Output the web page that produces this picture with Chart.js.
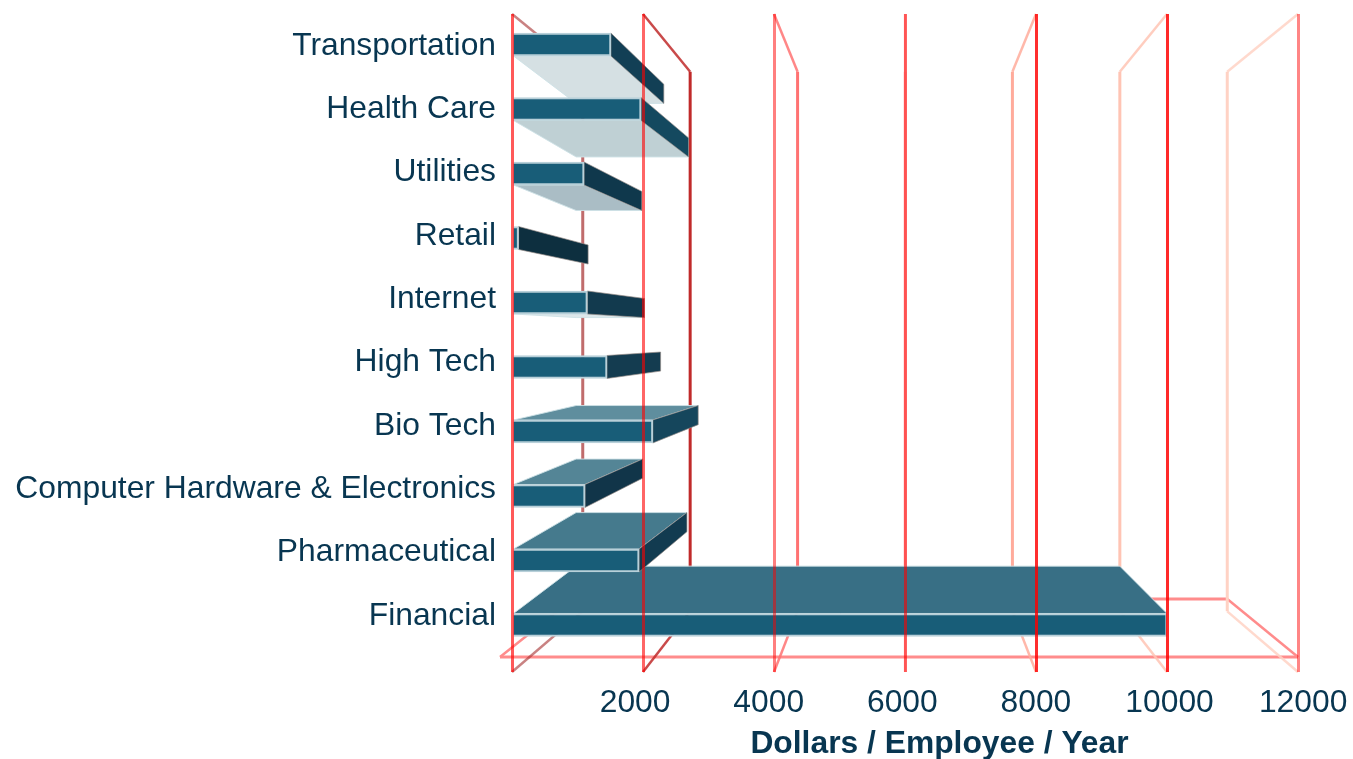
<!DOCTYPE html>
<html>
<head>
<meta charset="utf-8">
<title>Dollars per employee per year by industry</title>
<script src="https://cdn.jsdelivr.net/npm/chart.js@4"></script>
<style>
  html, body { margin: 0; padding: 0; background: #fff; }
  canvas { display: block; }
</style>
</head>
<body>
<canvas id="chart" width="1353" height="759"></canvas>
<script>
// Industries, top to bottom, and spend in dollars per employee per year
const categories = ['Transportation', 'Health Care', 'Utilities', 'Retail', 'Internet',
  'High Tech', 'Bio Tech', 'Computer Hardware & Electronics', 'Pharmaceutical', 'Financial'];
const dollars = [1510, 1970, 1100, 100, 1150, 1450, 2150, 1115, 1940, 10000];
const xTickLabels = [2000, 4000, 6000, 8000, 10000, 12000];
const axisTitle = 'Dollars / Employee / Year';

// Shading of each bar's visible horizontal face (underside above the eye, top below it)
const faceShades = ['#d5e0e3', '#bfd0d4', '#aabdc5', null, '#dde7ea',
  null, '#5f8e9e', '#548596', '#457a8d', '#386f85'];
const sideShades = ['#123f55', '#14495f', '#0f384c', '#0d2f3f', '#123a4e',
  '#143c50', '#15465c', '#113549', '#123b50', '#123b50'];

// Wall lines at 0, 2000 ... 12000: front plane, then receding plane
const frontGridColors = ['rgba(255,0,0,.65)', 'rgba(255,0,0,.6)', 'rgba(255,0,0,.5)',
  'rgba(255,0,0,.6)', 'rgba(255,0,0,.82)', 'rgba(255,0,0,.84)', 'rgba(255,0,0,.48)'];
const backGridColors = ['rgba(165,45,45,.7)', '#c02a2a', '#ff7272', 'rgba(255,0,0,.2)',
  '#ffab9b', '#ffc4b4', '#ffd2c4'];

const INK = '#083651';
const FONT = '"Liberation Sans", Arial, sans-serif';
const FONT_SIZE = 31.8;

// Perspective shared by the walls and the bars
const eye = { x: 905, y: 335 };
const wallDepth = 0.82;
const barDepthY = 0.83;
const barDepthRight = 0.82;
const barDepthLeft = 0.84;
const project = (x, y, kx, ky = kx) => [eye.x + (x - eye.x) * kx, eye.y + (y - eye.y) * ky];

function polygon(ctx, pts, fill, stroke) {
  ctx.beginPath();
  pts.forEach((p, i) => i ? ctx.lineTo(p[0], p[1]) : ctx.moveTo(p[0], p[1]));
  ctx.closePath();
  if (fill) { ctx.fillStyle = fill; ctx.fill(); }
  if (stroke) { ctx.strokeStyle = stroke; ctx.lineWidth = 1; ctx.stroke(); }
}

function segment(ctx, a, b, color, width) {
  ctx.beginPath();
  ctx.moveTo(a[0], a[1]);
  ctx.lineTo(b[0], b[1]);
  ctx.strokeStyle = color;
  ctx.lineWidth = width;
  ctx.stroke();
}

// Axis boxes keep a fixed size and do not reserve room for overhanging labels
function fixAxisBox(scale, size) {
  if (scale.isHorizontal()) scale.height = size; else scale.width = size;
  scale.paddingLeft = scale.paddingRight = scale.paddingTop = scale.paddingBottom = 0;
}

// Receding walls, floor frame and bar depth, all placed from the chart's scales
const perspectivePlugin = {
  id: 'perspective',
  beforeDatasetsDraw(chart) {
    const { ctx, chartArea: area, scales } = chart;
    const x = scales.x;
    ctx.save();

    // Floor frame behind the bars
    const floorY = area.bottom - 15;
    const floorLeft = area.left - 12;
    const floorColor = '#ff8c8c';
    segment(ctx, project(floorLeft, floorY, wallDepth), project(area.right, floorY, wallDepth), floorColor, 3);
    segment(ctx, [floorLeft, floorY], project(floorLeft, floorY, wallDepth), floorColor, 2.5);
    segment(ctx, [area.right, floorY], project(area.right, floorY, wallDepth), floorColor, 2.5);
    segment(ctx, [floorLeft, floorY], [area.right, floorY], floorColor, 3);

    // Back lines with their diagonals to the front plane
    [0].concat(xTickLabels).forEach((value, i) => {
      const px = x.getPixelForValue(value);
      const top = project(px, area.top, wallDepth);
      const bottom = project(px, area.bottom, wallDepth);
      const color = backGridColors[i];
      segment(ctx, top, bottom, color, 3);
      ctx.globalAlpha = 0.85;
      segment(ctx, [px, area.top], top, color, 2.5);
      segment(ctx, [px, area.bottom], bottom, color, 2.5);
      ctx.globalAlpha = 1;
    });

    // Bar depth, painted from the outermost bar inwards
    const bars = chart.getDatasetMeta(0).data.map((bar, i) => ({ bar, i }));
    bars.sort((a, b) => Math.abs(b.bar.y - eye.y) - Math.abs(a.bar.y - eye.y));
    bars.forEach(({ bar, i }) => {
      const { x: right, y, base: left, height } = bar.getProps(['x', 'y', 'base', 'height'], true);
      const top = y - height / 2;
      const bottom = y + height / 2;
      const faceY = bottom < eye.y ? bottom : top;
      if (faceShades[i]) {
        polygon(ctx, [[left, faceY], [right, faceY],
          project(right, faceY, barDepthRight, barDepthY), project(left, faceY, barDepthLeft, barDepthY)],
          faceShades[i], 'rgba(205,225,230,.9)');
      }
      if (right < eye.x) {
        polygon(ctx, [[right, top], project(right, top, barDepthRight, barDepthY),
          project(right, bottom, barDepthRight, barDepthY), [right, bottom]],
          sideShades[i], 'rgba(150,140,135,.65)');
      }
    });
    ctx.restore();
  },
  afterDraw(chart) {
    const { ctx } = chart;
    ctx.save();
    ctx.fillStyle = INK;
    ctx.font = 'bold ' + FONT_SIZE + 'px ' + FONT;
    ctx.textAlign = 'center';
    ctx.textBaseline = 'middle';
    ctx.fillText(axisTitle, 939.5, 744.5);
    ctx.restore();
  }
};

new Chart(document.getElementById('chart'), {
  type: 'bar',
  data: {
    datasets: [{
      data: dollars.map((v, i) => ({ x: v, y: i })),
      xAxisID: 'x',
      yAxisID: 'y',
      backgroundColor: '#185d78',
      borderColor: '#b8d0d9',
      borderWidth: 2,
      borderSkipped: 'start',
      barThickness: 23
    }]
  },
  options: {
    indexAxis: 'y',
    responsive: false,
    animation: false,
    layout: { padding: { top: 14, right: 55, left: 0, bottom: 0 } },
    plugins: { legend: { display: false }, tooltip: { enabled: false } },
    scales: {
      // Value axis of the bars; its grid is the front plane and lies over them
      x: {
        type: 'linear',
        position: 'bottom',
        min: 0,
        max: 12000,
        ticks: { display: false, stepSize: 2000 },
        border: { display: false },
        grid: {
          z: 1,
          drawTicks: false,
          color: ctx => frontGridColors[ctx.index],
          lineWidth: 3
        }
      },
      // Printed numbers sit on a slightly wider plane than the bars
      xLabels: {
        type: 'linear',
        position: 'bottom',
        min: 157,
        max: 11923,
        afterBuildTicks: s => { s.ticks = xTickLabels.map(value => ({ value })); },
        afterFit: s => fixAxisBox(s, 87),
        border: { display: false },
        grid: { display: false, drawTicks: false },
        ticks: {
          autoSkip: false,
          maxRotation: 0,
          padding: 12,
          color: INK,
          font: { family: FONT, size: FONT_SIZE },
          callback: v => String(v)
        }
      },
      // Positions of the bars, one unit per industry
      y: {
        type: 'linear',
        display: false,
        offset: false,
        reverse: true,
        min: -0.473,
        max: 9.729
      },
      // Printed industry names
      yLabels: {
        type: 'linear',
        position: 'left',
        offset: false,
        reverse: true,
        min: -0.505,
        max: 9.884,
        afterBuildTicks: s => { s.ticks = categories.map((_, value) => ({ value })); },
        afterFit: s => fixAxisBox(s, 512),
        border: { display: false },
        grid: { display: false, drawTicks: false, offset: false },
        ticks: {
          autoSkip: false,
          padding: 16,
          color: INK,
          font: { family: FONT, size: FONT_SIZE },
          callback: v => categories[v]
        }
      }
    }
  },
  plugins: [perspectivePlugin]
});
</script>
</body>
</html>
